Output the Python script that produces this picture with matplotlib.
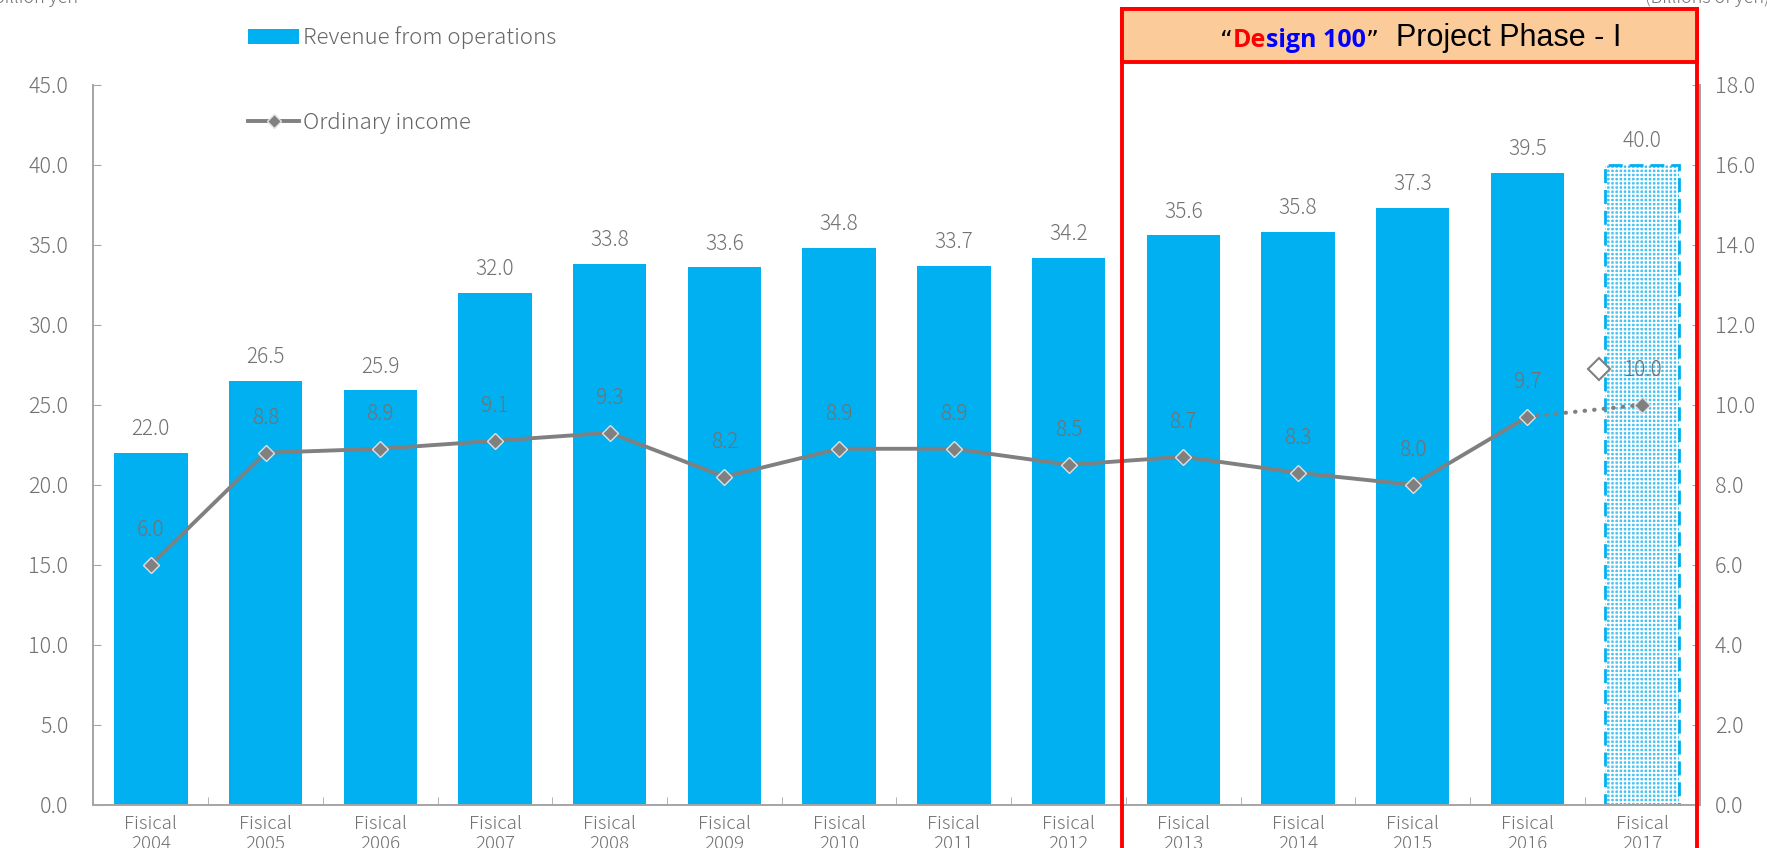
import numpy as np
import matplotlib.pyplot as plt
from matplotlib.patches import Rectangle, Patch
from matplotlib.lines import Line2D
from matplotlib.text import Annotation

plt.rcParams['font.family'] = ['Noto Sans CJK JP', 'DejaVu Sans']
plt.rcParams['font.weight'] = 'light'
plt.rcParams['hatch.linewidth'] = 1.2

years = ['2004', '2005', '2006', '2007', '2008', '2009', '2010',
         '2011', '2012', '2013', '2014', '2015', '2016', '2017']
revenue = [22.0, 26.5, 25.9, 32.0, 33.8, 33.6, 34.8, 33.7, 34.2, 35.6, 35.8, 37.3, 39.5, 40.0]
ordinary = [6.0, 8.8, 8.9, 9.1, 9.3, 8.2, 8.9, 8.9, 8.5, 8.7, 8.3, 8.0, 9.7, 10.0]

BLUE = '#00B0F0'
GREY_LINE = '#808080'
TXT = '#727272'
SPINE = '#a6a6a6'

fig = plt.figure(figsize=(17.67, 8.48), dpi=100)
ax = fig.add_axes([0.0529, 0.051, 0.9089, 0.849])
ax2 = ax.twinx()

x = np.arange(len(years))
w = 0.64

# revenue bars, last year is a forecast (dotted fill, dashed border)
ax.bar(x[:-1], revenue[:-1], width=w, color=BLUE, zorder=2)
ax.bar(x[-1], revenue[-1], width=w, color='#45c3f2', edgecolor='white',
       hatch='++++', linewidth=0, zorder=2)
ax.bar(x[-1], revenue[-1], width=w, fill=False, edgecolor=BLUE,
       linestyle=(0, (5, 2.5)), linewidth=2, zorder=3)

for xi, v in zip(x, revenue):
    ax.annotate(f'{v:.1f}', (xi, v), xytext=(0, 17), textcoords='offset points',
                ha='center', va='center', fontsize=15, color=TXT)

ax.set_xlim(-0.5, len(years) - 0.5)
ax.set_ylim(0, 45)
ax.set_yticks(np.arange(0, 45.1, 5))
ax.set_yticklabels([f'{v:.1f}' for v in np.arange(0, 45.1, 5)])
ax.set_xticks(x)
ax.set_xticklabels([f'Fisical\n{y}' for y in years], linespacing=1.1)
ax.set_xticks(np.arange(0.5, len(years) - 1, 1), minor=True)
ax.tick_params(axis='x', which='major', length=0, pad=7.5, labelsize=13.5, labelcolor=TXT)
ax.tick_params(axis='x', which='minor', direction='in', length=6, color=SPINE)
ax.tick_params(axis='y', direction='in', length=6, color=SPINE, pad=18,
               labelsize=15.5, labelcolor=TXT)

# ordinary income line on the right axis
ax2.plot(x[:-1], ordinary[:-1], color=GREY_LINE, lw=2.8, marker='D', ms=8,
         mfc=GREY_LINE, mec='#e0e0e0', mew=1, zorder=4)
ax2.plot(x[-2:], ordinary[-2:], color=GREY_LINE, lw=3, ls=(0, (0.1, 2.2)),
         dash_capstyle='round', zorder=4)
ax2.plot(x[-1:], ordinary[-1:], ls='none', marker='D', ms=8,
         mfc=GREY_LINE, mec='#e0e0e0', mew=1, zorder=5)
ax2.plot([x[-1] - 0.38], [ordinary[-1] + 0.9], ls='none', marker='D', ms=11,
         mfc='white', mec=GREY_LINE, mew=1.5, zorder=5)

for xi, v in zip(x, ordinary):
    ax2.annotate(f'{v:.1f}', (xi, v), xytext=(0, 25), textcoords='offset points',
                 ha='center', va='center', fontsize=15, color=TXT, zorder=6)

ax2.set_ylim(0, 18)
ax2.set_yticks(np.arange(0, 18.1, 2))
ax2.set_yticklabels([f'{v:.1f}' for v in np.arange(0, 18.1, 2)])
ax2.tick_params(axis='y', direction='in', length=6, color=SPINE, pad=11,
                labelsize=15.5, labelcolor=TXT)

for a in (ax, ax2):
    a.spines['top'].set_visible(False)
    for s in ('left', 'right', 'bottom'):
        a.spines[s].set_color(SPINE)
        a.spines[s].set_linewidth(1.3)

# units, partly cut at the top edge
fig.text(-0.004, 1.002, 'Billion yen', fontsize=13, color=TXT, ha='left', va='center')
fig.text(0.931, 1.003, '(Billions of yen)', fontsize=13, color=TXT, ha='left', va='center')

# project phase frame and header
x0, x1 = 1122 / 1767, 1697 / 1767
fig.patches.append(Rectangle((x0, -0.1), x1 - x0, 1.089,
                             transform=fig.transFigure, fill=False,
                             edgecolor='#ff0000', lw=2.8, zorder=10))
fig.patches.append(Rectangle((x0, 1 - 62 / 848), x1 - x0, 53 / 848,
                             transform=fig.transFigure, facecolor='#fbcb9a',
                             edgecolor='#ff0000', lw=2.8, zorder=10))

# header title built from coloured pieces laid side by side
prev = fig.text(1220 / 1767, 1 - 53 / 848, '\u201c', fontsize=18, color='black',
                va='bottom', family='DejaVu Sans', fontweight='normal', zorder=11)
pieces = [('De', '#ff0000', 'bold', 18, 'Open Sans'),
          ('sign 100', '#0000ff', 'bold', 18, 'Open Sans'),
          ('\u201d', 'black', 'normal', 18, 'DejaVu Sans'),
          ('  Project Phase - I', 'black', 'normal', 22, 'Liberation Sans')]
for s, c, wgt, fs, fam in pieces:
    ann = Annotation(s, xy=(1, 0), xycoords=prev, ha='left', va='bottom',
                     color=c, fontweight=wgt, fontsize=fs, family=fam,
                     annotation_clip=False)
    ann.set_zorder(11)
    fig.add_artist(ann)
    prev = ann

legend_handles = [Patch(facecolor=BLUE, edgecolor='none'),
                  Line2D([], [], color=GREY_LINE, lw=2.8, marker='D', ms=7,
                         mfc=GREY_LINE, mec='#e0e0e0')]
fig.legend(legend_handles, ['Revenue from operations', 'Ordinary income'],
           loc='upper left', bbox_to_anchor=(237 / 1767, 0.982), frameon=False,
           fontsize=16, labelcolor='#666666', borderpad=0, handlelength=2.3,
           handletextpad=0.15, labelspacing=2.8)

fig.savefig('out.png', dpi=100)
